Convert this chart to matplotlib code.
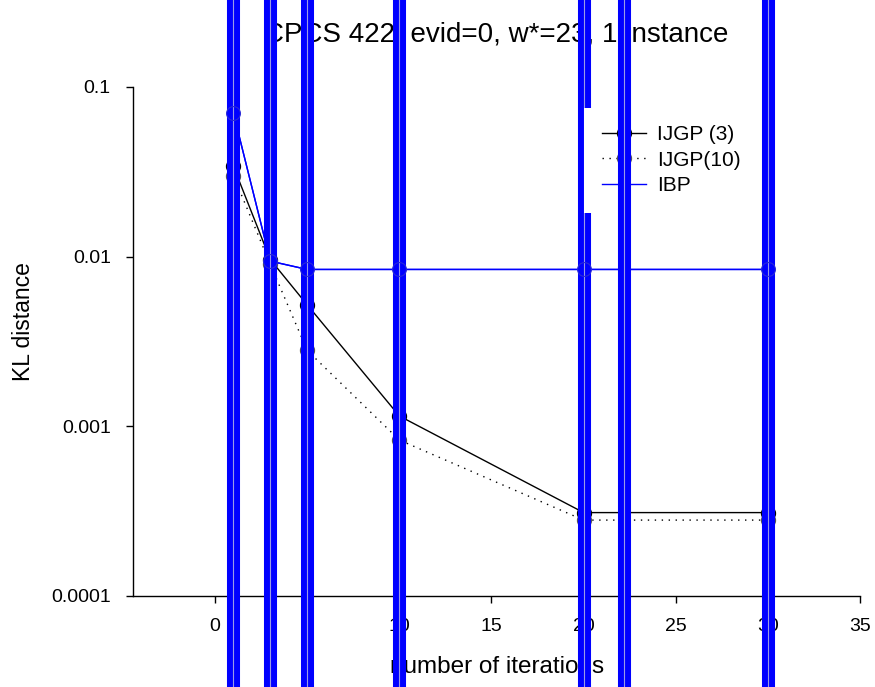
import matplotlib
matplotlib.use("Agg")
import matplotlib.pyplot as plt
from matplotlib.legend_handler import HandlerTuple
from matplotlib.ticker import FixedLocator, FixedFormatter, NullLocator

plt.rcParams['font.family'] = ['Liberation Sans', 'DejaVu Sans']

# iterations and KL distance per algorithm
iterations = [1, 3, 5, 10, 20, 30]
ijgp3 = [0.034, 0.0096, 0.0052, 0.00115, 0.00031, 0.00031]
ijgp10 = [0.030, 0.0090, 0.0028, 0.00083, 0.00028, 0.00028]
ibp = [0.070, 0.0094, 0.0084, 0.0084, 0.0084, 0.0084]

series_labels = ["IJGP (3)", "IJGP(10)", "IBP"]
y_ticks = [0.0001, 0.001, 0.01, 0.1]
y_tick_labels = ["0.0001", "0.001", "0.01", "0.1"]
x_ticks = [0, 5, 10, 15, 20, 25, 30, 35]

fig = plt.figure(figsize=(8.75, 6.87), dpi=100)
ax = fig.add_axes([0.152, 0.1325, 0.831, 0.741])

ax.set_yscale('log')
ax.set_ylim(1e-4, 1e-1)
ax.set_xlim(-4.45, 35)

l3, = ax.plot(iterations, ijgp3, color='black', lw=1, marker='o', ms=10,
              mfc='none', mec='black', mew=1, zorder=2)
l10, = ax.plot(iterations, ijgp10, color='black', lw=1, ls=(0, (1, 4)),
               marker='o', ms=10, mfc='none', mec='#555555', mew=1, zorder=2)
ax.plot(iterations, ibp, color='#0000ff', lw=1, zorder=3)

# tall bar markers on the IBP points, running past the axes
bars, = ax.plot(iterations, ibp, color='#0000ff', lw=1, marker='|', ms=1100,
                mew=9.4, mec='#0000ff', clip_on=False, zorder=5)
core, = ax.plot(iterations, ibp, ls='none', marker='|', ms=1100, mew=0.8,
                mec='#9a9ae6', clip_on=False, zorder=5.1)
ax.plot(iterations, ibp, ls='none', marker='o', ms=10, mfc='none',
        mec='#2a2ad8', mew=0.8, clip_on=False, zorder=5.2)

for s in ('top', 'right'):
    ax.spines[s].set_visible(False)
ax.spines['left'].set_linewidth(1)
ax.spines['bottom'].set_linewidth(1)

ax.yaxis.set_major_locator(FixedLocator(y_ticks))
ax.yaxis.set_major_formatter(FixedFormatter(y_tick_labels))
ax.yaxis.set_minor_locator(NullLocator())
ax.set_xticks(x_ticks)
ax.tick_params(axis='both', labelsize=14, length=5, width=1, direction='out')
ax.tick_params(axis='x', pad=11)
ax.tick_params(axis='y', pad=11)

ax.set_title("CPCS 422, evid=0, w*=23, 1 instance", fontsize=20, pad=33)
ax.set_xlabel("number of iterations", fontsize=17.5, labelpad=15)
ax.set_ylabel("KL distance", fontsize=16.5)
ax.yaxis.set_label_coords(-0.135, 0.54)

leg = ax.legend([l3, l10, (bars, core)], series_labels,
                handler_map={tuple: HandlerTuple(ndivide=1)},
                loc='upper left', bbox_to_anchor=(584 / 875, 1 - 108 / 687),
                bbox_transform=fig.transFigure, borderaxespad=0,
                fontsize=15, frameon=True, fancybox=False,
                edgecolor='none', facecolor='white', framealpha=1,
                handlelength=2.15, handletextpad=0.5, borderpad=0.84,
                labelspacing=0.3, numpoints=1)
leg.set_zorder(6)

fig.savefig("out.png", dpi=100)
